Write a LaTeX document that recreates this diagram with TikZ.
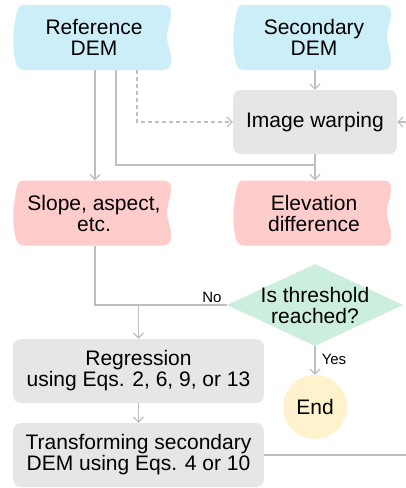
\documentclass[tikz,border=0pt]{standalone}
\usepackage{fontspec}
\setmainfont{Liberation Sans}
\usetikzlibrary{arrows.meta,shapes.geometric}
\definecolor{tblue}{HTML}{CCEEF9}
\definecolor{tpink}{HTML}{FFCCCC}
\definecolor{tgray}{HTML}{E6E6E6}
\definecolor{tgreen}{HTML}{CCEEDD}
\definecolor{tyellow}{HTML}{FFF2CC}
\definecolor{lgray}{HTML}{BFBFBF}
\tikzset{
 tape/.pic={\path[pic actions] (-70,-32.5) -- (71,-32.5)
   .. controls (76,-32.5) and (79,-30) .. (79,-25)
   .. controls (79,-14) and (75,-10) .. (75,-1)
   .. controls (75,8) and (79,12) .. (79,22)
   .. controls (79,29) and (77,32.5) .. (71,32.5)
   -- (-68,32.5)
   .. controls (-74,32.5) and (-76,28) .. (-77,22)
   .. controls (-79,12) and (-79,0) .. (-78,-8)
   .. controls (-77,-18) and (-75,-32.5) .. (-70,-32.5) -- cycle;},
 txt/.style={align=center,font=\fontsize{21}{21}\selectfont,inner sep=0pt},
 tapenode/.style={txt,minimum width=158pt,minimum height=65pt},
 box/.style={txt,rectangle,rounded corners=8pt,fill=tgray,minimum height=64pt},
 conn/.style={draw=lgray,line width=1.2pt},
 arr/.style={conn,-{Straight Barb[length=5pt,width=10pt]}},
 lbl/.style={font=\fontsize{15}{15}\selectfont,inner sep=0pt},
}
\begin{document}
\begin{tikzpicture}[x=1pt,y=-1pt]
\useasboundingbox (0,0) rectangle (406,488);
\clip (0,0) rectangle (406,488);
\pic[fill=tblue] at (92,37.5) {tape};
\pic[fill=tblue] at (312,37.5) {tape};
\pic[fill=tpink] at (92,213) {tape};
\pic[fill=tpink] at (312,213) {tape};
\node[tapenode] (ref) at (94,37.5) {Reference\\DEM};
\node[tapenode] (sec) at (314,37.5) {Secondary\\DEM};
\node[tapenode] (slope) at (94,213) {Slope, aspect,\\etc.};
\node[tapenode] (elev) at (314,213) {Elevation\\difference};
\node[box,minimum width=164pt] (warp) at (315,122) {Image warping};
\node[diamond,fill=tgreen,minimum width=176pt,minimum height=82pt,inner sep=0pt,aspect=2.15,label={[txt]center:Is threshold\\reached?}] (dec) at (315,305) {};
\node[circle,fill=tyellow,minimum size=64pt,txt] (end) at (315,407) {End};
\node[box,minimum width=251pt] (reg) at (138.5,371) {Regression\\using Eqs. 2, 6, 9, or 13};
\node[box,minimum width=251pt] (trans) at (138.5,455) {Transforming secondary\\DEM using Eqs. 4 or 10};
\coordinate (j1) at (315,165);
\coordinate (j2) at (reg.north |- dec.west);
\draw[arr] ([xshift=1pt]ref.south) -- ([xshift=1pt]slope.north);
\draw[conn] ([xshift=22pt]ref.south) |- (j1);
\draw[arr] (warp.south) -- (warp.south |- elev.north);
\draw[arr,dash pattern=on 4pt off 3pt] ([xshift=43pt]ref.south) |- (warp.west);
\draw[arr] (sec.south -| warp.north) -- (warp.north);
\draw[conn] ([xshift=1pt]slope.south) |- (dec.west);
\draw[arr] (j2) -- (reg.north);
\draw[arr] (reg.south) -- (trans.north);
\draw[arr] (dec.south) -- (end.north);
\draw[arr] (trans.east) -- ++(150,0) |- (warp.east);
\node[lbl] (no) at (212,297) {No};
\node[lbl] (yes) at (334,359) {Yes};
\end{tikzpicture}
\end{document}
